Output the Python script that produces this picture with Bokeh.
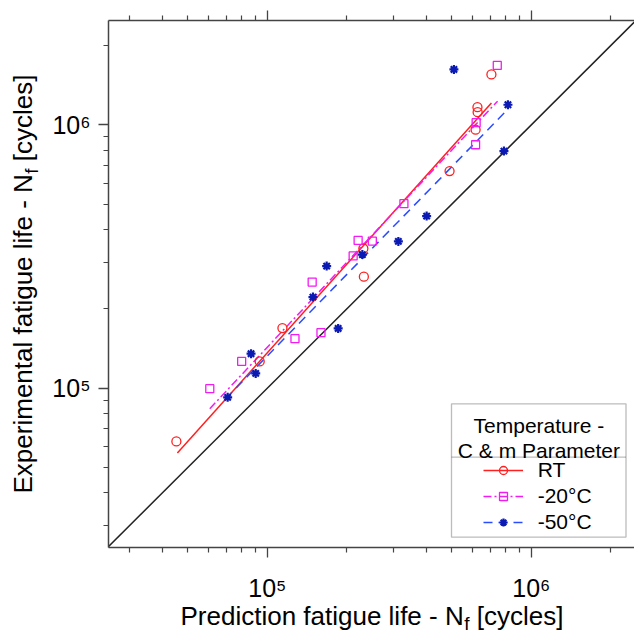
import numpy as np
from bokeh.plotting import figure
from bokeh.models import (Range1d, LogAxis, LinearAxis, LinearScale, FixedTicker, Label,
                          BoxAnnotation, Legend, LegendItem)
from bokeh.embed import file_html
from bokeh.resources import INLINE

# ---------------- data ----------------
rt_pred = [7.06e5, 6.25e5, 6.26e5, 6.15e5, 4.90e5, 2.31e5, 2.32e5, 1.14e5, 9.35e4, 4.52e4]
rt_exp = [1.554e6, 1.167e6, 1.117e6, 9.58e5, 6.67e5, 3.39e5, 2.65e5, 1.69e5, 1.263e5, 6.27e4]

m20_pred = [6.05e4, 7.99e4, 1.272e5, 1.596e5, 1.478e5, 2.113e5, 2.207e5, 2.498e5,
            3.291e5, 6.18e5, 6.15e5, 7.43e5]
m20_exp = [9.95e4, 1.263e5, 1.54e5, 1.623e5, 2.527e5, 3.178e5, 3.639e5, 3.617e5,
           5.015e5, 1.019e6, 8.40e5, 1.681e6]

m50_pred = [7.07e4, 8.67e4, 9.03e4, 1.488e5, 1.677e5, 1.854e5, 2.29e5, 3.135e5,
            4.012e5, 5.09e5, 8.155e5, 7.875e5]
m50_exp = [9.22e4, 1.351e5, 1.137e5, 2.216e5, 2.906e5, 1.685e5, 3.214e5, 3.607e5,
           4.50e5, 1.623e6, 1.192e6, 7.945e5]

rt_fit_pred = [4.56e4, 7.06e5]
rt_fit_exp = [5.665e4, 1.211e6]
m20_fit_pred = [6.05e4, 7.45e5]
m20_fit_exp = [8.35e4, 1.23e6]
m50_fit_pred = [6.95e4, 8.2e5]
m50_fit_exp = [9.11e4, 1.154e6]

diag = [2.0e4, 3.0e6]

tick_values = [1e5, 1e6]
tick_labels = ["10\u2075", "10\u2076"]
minor_values = [3e4, 4e4, 5e4, 6e4, 7e4, 8e4, 9e4,
                2e5, 3e5, 4e5, 5e5, 6e5, 7e5, 8e5, 9e5, 2e6]

series_names = ["RT", "-20°C", "-50°C"]
legend_title = ["Temperature -", "C & m Parameter"]
x_title = ["Prediction fatigue life - N", "f", "[cycles]"]
y_title = ["Experimental fatigue life - N", "f", "[cycles]"]

# ---------------- styling ----------------
FONT = "Liberation Sans"
RED = "#ff1f1f"
MAG = "#f21cf2"
BLUE_M = "#0c1ab4"
BLUE_L = "#2a4cff"
AXC = "#444444"

W, H = 634, 637
ML, MT, MB = 108, 20, 90
FW, FH = W - ML, H - MT - MB

p = figure(width=W, height=H, x_axis_type="log", y_axis_type="log",
           x_range=Range1d(2.5e4, 2.46e6), y_range=Range1d(2.48e4, 2.49e6),
           output_backend="svg", toolbar_location=None,
           min_border_left=ML, min_border_right=0, min_border_top=MT,
           min_border_bottom=MB)
p.outline_line_color = None
p.xgrid.visible = False
p.ygrid.visible = False
p.background_fill_color = "white"
p.border_fill_color = "white"

overrides = dict(zip(tick_values, tick_labels))


def style_axis(ax, labels=True):
    ax.ticker = FixedTicker(ticks=tick_values, minor_ticks=minor_values)
    ax.axis_line_color = AXC
    ax.axis_line_width = 1.5
    ax.major_tick_line_color = AXC
    ax.major_tick_line_width = 1.3
    ax.minor_tick_line_color = AXC
    ax.minor_tick_line_width = 1.2
    ax.major_tick_out = 10
    ax.major_tick_in = 0
    ax.minor_tick_out = 5
    ax.minor_tick_in = 0
    ax.axis_label = None
    if labels:
        ax.major_label_overrides = overrides
        ax.major_label_text_font = FONT
        ax.major_label_text_font_size = "25px"
        ax.major_label_text_color = "black"
    else:
        ax.major_label_overrides = {v: "" for v in tick_values}
        ax.major_label_text_font_size = "0px"
        ax.major_label_standoff = 0


xax = p.xaxis[0]
yax = p.yaxis[0]
style_axis(xax)
style_axis(yax)
xax.major_label_standoff = 16
yax.major_label_standoff = 8

top = LogAxis()
style_axis(top, labels=False)
p.add_layout(top, "above")

# ---------------- axis titles (text axes, pixel ranges) ----------------
AW = {' ': 278, 'P': 667, 'r': 333, 'e': 556, 'd': 556, 'i': 222, 'c': 500, 't': 278,
      'o': 556, 'n': 556, 'f': 278, 'a': 556, 'g': 556, 'u': 556, 'l': 222, '-': 333,
      'N': 722, '[': 278, 'y': 500, 's': 500, ']': 278, 'E': 667, 'x': 500, 'p': 556,
      'm': 833}


def tw(s, size):
    return sum(AW.get(c, 556) for c in s) * size / 1000.0


TS, SS = 26, 19
p.extra_x_ranges = {"tx": Range1d(0, FW)}
p.extra_y_ranges = {"ty": Range1d(0, FH)}
p.extra_x_scales = {"tx": LinearScale()}
p.extra_y_scales = {"ty": LinearScale()}


def centers(start, parts):
    w1, wf, w3 = tw(parts[0], TS), tw(parts[1], SS), tw(parts[2], TS)
    c1 = start + w1 / 2
    c2 = start + w1 + 0.5 + wf / 2
    c3 = start + w1 + 0.5 + wf + tw(" ", TS) + w3 / 2
    return round(c1, 1), round(c2, 1), round(c3, 1)


def text_axis(cls, kw, ticks, labels, size, standoff, orient=None):
    ax = cls(**kw, ticker=FixedTicker(ticks=list(ticks), minor_ticks=[]),
             major_label_overrides=dict(zip(ticks, labels)),
             axis_line_color=None, major_tick_line_color=None,
             minor_tick_line_color=None, major_tick_out=0, major_tick_in=0,
             minor_tick_out=0, minor_tick_in=0, major_label_standoff=standoff,
             major_label_text_font=FONT, major_label_text_font_size=f"{size}px",
             major_label_text_color="black")
    if orient is not None:
        ax.major_label_orientation = orient
    return ax


# x title: starts 72 px right of frame left
xc1, xc2, xc3 = centers(72, x_title)
p.add_layout(text_axis(LinearAxis, dict(x_range_name="tx"), [xc1, xc3],
                       [x_title[0], x_title[2]], TS, -4), "below")
p.add_layout(text_axis(LinearAxis, dict(x_range_name="tx"), [xc2],
                       [x_title[1]], SS, -21), "below")

# y title: starts 54 px above frame bottom
yc1, yc2, yc3 = centers(54, y_title)
p.add_layout(text_axis(LinearAxis, dict(y_range_name="ty"), [yc2],
                       [y_title[1]], SS, 8, "vertical"), "left")
p.add_layout(text_axis(LinearAxis, dict(y_range_name="ty"), [yc1, yc3],
                       [y_title[0], y_title[2]], TS, -21, "vertical"), "left")

# 1:1 line
p.line(diag, diag, line_color="#222222", line_width=1.5)

# fit lines
rt_line = p.line(rt_fit_pred, rt_fit_exp, line_color=RED, line_width=1.5)
m20_line = p.line(m20_fit_pred, m20_fit_exp, line_color=MAG, line_width=1.5,
                  line_dash="8 3 2 3")
m50_line = p.line(m50_fit_pred, m50_fit_exp, line_color=BLUE_L, line_width=1.5,
                  line_dash="9 6")

# points
rt_sc = p.scatter(rt_pred, rt_exp, marker="circle", size=9, fill_color=None,
                  line_color=RED, line_width=1.3)
m20_sc = p.scatter(m20_pred, m20_exp, marker="square", size=8, fill_color=None,
                   line_color=MAG, line_width=1.3)
m50_sc = p.scatter(m50_pred, m50_exp, marker="asterisk", size=9,
                   line_color=BLUE_M, line_width=2.2)

# ---------------- legend ----------------
LS = 21
common = dict(x_units="screen", y_units="screen", text_font=FONT,
              text_color="black", text_baseline="alphabetic")
box = BoxAnnotation(left=343, right=517.5, top=143.7, bottom=10.3,
                    left_units="screen", right_units="screen",
                    top_units="screen", bottom_units="screen",
                    fill_color="white", fill_alpha=1.0,
                    line_color="#222222", line_width=1.3, level="overlay")
p.add_layout(box)
sep = BoxAnnotation(left=343, right=517.5, top=90.3, bottom=90.3,
                    left_units="screen", right_units="screen",
                    top_units="screen", bottom_units="screen",
                    fill_alpha=0, line_color="#222222", line_width=1.3, level="overlay")
p.add_layout(sep)
p.add_layout(Label(x=430.4, y=122.5, text=legend_title[0], text_font_size=f"{LS}px",
                   text_align="center", level="overlay", **common))
p.add_layout(Label(x=430.4, y=97.5, text=legend_title[1], text_font_size=f"{LS}px",
                   text_align="center", level="overlay", **common))

legend = Legend(items=[LegendItem(label=series_names[0], renderers=[rt_line, rt_sc]),
                       LegendItem(label=series_names[1], renderers=[m20_line, m20_sc]),
                       LegendItem(label=series_names[2], renderers=[m50_line, m50_sc])],
                location=(374.7, 13.2), border_line_color=None,
                background_fill_alpha=0, glyph_width=40, glyph_height=20,
                label_height=20, spacing=2, padding=0, margin=0, label_standoff=15,
                label_text_font=FONT, label_text_font_size=f"{LS}px",
                label_text_color="black")
p.add_layout(legend)

open("out.html", "w").write(file_html(p, INLINE))
